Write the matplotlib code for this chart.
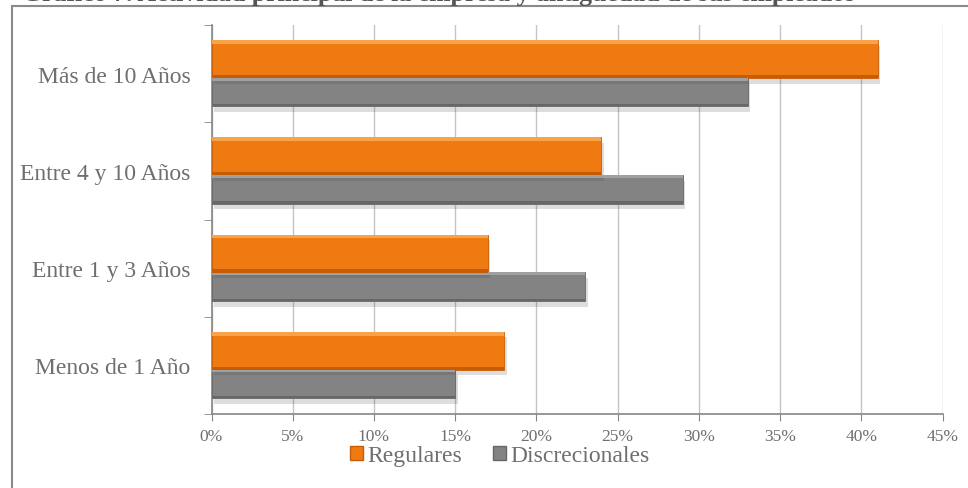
import numpy as np
import matplotlib.pyplot as plt
import matplotlib.patheffects as pe
from matplotlib.patches import Rectangle

# Datos por antigüedad de los empleados (porcentaje)
categorias = ['Menos de 1 Año', 'Entre 1 y 3 Años', 'Entre 4 y 10 Años', 'Más de 10 Años']
regulares = [18, 17, 24, 41]
discrecionales = [15, 23, 29, 33]
ticks_x = [0, 5, 10, 15, 20, 25, 30, 35, 40, 45]

titulo = 'Gráfico 7. Actividad principal de la empresa y antigüedad de sus empleados'

plt.rcParams['font.family'] = ['Liberation Serif', 'DejaVu Serif']
gris_texto = '#6f6f6f'

fig = plt.figure(figsize=(9.68, 4.89), dpi=100)
ax = fig.add_axes([211.5 / 968, 74 / 489, 731 / 968, 389 / 489])

y = np.arange(len(categorias))

def barras_bisel(pos, valores, alto, base, claro, oscuro):
    # barra principal con sombra suave
    b = ax.barh(pos, valores, height=alto, color=base, edgecolor=oscuro,
                linewidth=0.6, zorder=3)
    for p in b:
        p.set_path_effects([pe.SimplePatchShadow(offset=(2, -4), alpha=0.18,
                                                 shadow_rgbFace='#444444'),
                            pe.Normal()])
    # bisel superior (claro) e inferior (oscuro)
    ax.barh(pos + alto / 2 - alto * 0.05, valores, height=alto * 0.10,
            color=claro, linewidth=0, zorder=4)
    ax.barh(pos - alto / 2 + alto * 0.04, valores, height=alto * 0.08,
            color=oscuro, linewidth=0, zorder=4)
    return b

barras_bisel(y - 0.19, discrecionales, 0.295, '#838383', '#a0a0a0', '#676767')
barras_bisel(y + 0.15, regulares, 0.39, '#f07a12', '#f8a24a', '#c65d05')

ax.set_xlim(0, 45)
ax.set_ylim(-0.5, len(categorias) - 0.5)
ax.set_xticks(ticks_x)
ax.set_xticklabels([f'{t}%' for t in ticks_x], fontsize=12.5, color=gris_texto)
ax.set_yticks(y)
ax.set_yticklabels(categorias, fontsize=17, color=gris_texto)
ax.set_yticks(np.arange(-0.5, len(categorias)), minor=True)
ax.tick_params(axis='y', which='major', length=0, pad=15)
ax.tick_params(axis='y', which='minor', length=6, color='#868686', direction='out')
ax.tick_params(axis='x', length=5, color='#868686', direction='out', pad=5)

ax.grid(axis='x', color='#c4c4c4', linewidth=1, zorder=0)
ax.set_axisbelow(True)
for lado in ['top', 'right']:
    ax.spines[lado].set_visible(False)
for lado in ['left', 'bottom']:
    ax.spines[lado].set_color('#868686')
    ax.spines[lado].set_linewidth(1.2)

# leyenda debajo del eje
h1 = Rectangle((0, 0), 1, 1, facecolor='#f07a12', edgecolor='#c65d05')
h2 = Rectangle((0, 0), 1, 1, facecolor='#838383', edgecolor='#676767')
leg = fig.legend([h1, h2], ['Regulares', 'Discrecionales'], loc='center',
                 bbox_to_anchor=(500 / 968, 1 - 457 / 489), ncol=2, frameon=False,
                 fontsize=17, handlelength=0.55, handleheight=0.55,
                 handletextpad=0.2, columnspacing=1.3)
for t in leg.get_texts():
    t.set_color(gris_texto)

# marco exterior y título
fig.patches.append(Rectangle((12 / 968, -0.1), 1.0, 1.1 - 6.5 / 489,
                             transform=fig.transFigure, fill=False,
                             edgecolor='#8a8a8a', linewidth=1.5))
fig.text(22 / 968, 1 - 1.5 / 489, titulo, fontsize=18.5, fontweight='bold',
         color='#555555', va='baseline', ha='left')

fig.savefig('out.png', dpi=100)
